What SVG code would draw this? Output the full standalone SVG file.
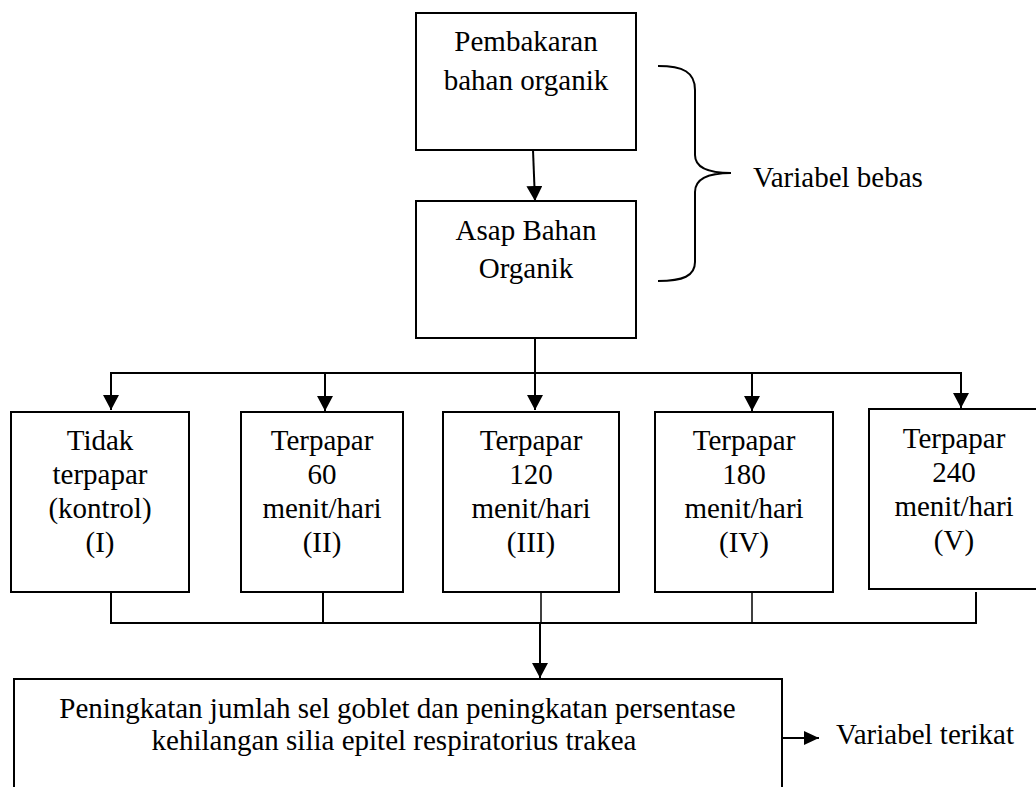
<svg xmlns="http://www.w3.org/2000/svg" width="1036" height="787" viewBox="0 0 1036 787">
<style>
.box{fill:#fff;stroke:#000;stroke-width:2}
.ln{fill:none;stroke:#000;stroke-width:2}
.thin{fill:none;stroke:#000;stroke-width:1.5}
</style>
<defs>
<marker id="ah" markerUnits="userSpaceOnUse" markerWidth="16" markerHeight="16" refX="15" refY="8" orient="auto">
<path d="M0,0 L15,8 L0,16 Z" fill="#000"/>
</marker>
<marker id="ahs" markerUnits="userSpaceOnUse" markerWidth="16" markerHeight="14" refX="15" refY="7" orient="auto">
<path d="M0,0 L15,7 L0,14 Z" fill="#000"/>
</marker>
</defs>
<rect width="1036" height="787" fill="#fff"/>
<g id="connectors">
<line class="ln" x1="533" y1="150" x2="535" y2="201" marker-end="url(#ah)"/>
<path class="ln" d="M658,66 C683,66 695,72 695,90 L695,155 C695,167 708,173 731,173 C708,173 695,179 695,192 L695,262 C695,276 683,281 658,281"/>
<line class="ln" x1="535" y1="338" x2="535" y2="373"/>
<line class="ln" x1="110" y1="373" x2="962" y2="373"/>
<line class="ln" x1="111" y1="373" x2="111" y2="410" marker-end="url(#ah)"/>
<line class="ln" x1="325" y1="373" x2="325" y2="411" marker-end="url(#ah)"/>
<line class="ln" x1="535" y1="373" x2="535" y2="410" marker-end="url(#ah)"/>
<line class="ln" x1="752" y1="373" x2="752" y2="411" marker-end="url(#ah)"/>
<line class="ln" x1="961" y1="373" x2="961" y2="408" marker-end="url(#ah)"/>
<line class="ln" x1="111" y1="592" x2="111" y2="623"/>
<line class="ln" x1="323" y1="589" x2="323" y2="623"/>
<line class="thin" x1="541" y1="592" x2="541" y2="623"/>
<line class="thin" x1="752" y1="592" x2="752" y2="623"/>
<line class="ln" x1="976" y1="592" x2="976" y2="624"/>
<line class="ln" x1="110" y1="623" x2="977" y2="623"/>
<line class="ln" x1="540" y1="623" x2="540" y2="678" marker-end="url(#ah)"/>
<line class="ln" x1="782" y1="738" x2="819" y2="738" marker-end="url(#ahs)"/>
</g>
<g font-family="'Liberation Serif', 'Times New Roman', Times, serif" font-size="29" fill="#000">
<g id="n1" text-anchor="middle">
<rect class="box" x="416" y="13" width="220" height="137"/>
<text x="526" y="51">Pembakaran</text>
<text x="526" y="90">bahan organik</text>
</g>
<g id="n2" text-anchor="middle">
<rect class="box" x="416" y="201" width="220" height="137"/>
<text x="526" y="240">Asap Bahan</text>
<text x="526" y="278">Organik</text>
</g>
<g id="lbl-bebas">
<text x="753" y="187">Variabel bebas</text>
</g>
<g id="g1" text-anchor="middle">
<rect class="box" x="11" y="412" width="178" height="180"/>
<text x="100" y="450">Tidak</text>
<text x="100" y="484">terpapar</text>
<text x="100" y="518">(kontrol)</text>
<text x="100" y="552">(I)</text>
</g>
<g id="g2" text-anchor="middle">
<rect class="box" x="241" y="412" width="162" height="180"/>
<text x="322" y="450">Terpapar</text>
<text x="322" y="484">60</text>
<text x="322" y="518">menit/hari</text>
<text x="322" y="552">(II)</text>
</g>
<g id="g3" text-anchor="middle">
<rect class="box" x="443" y="412" width="176" height="180"/>
<text x="531" y="450">Terpapar</text>
<text x="531" y="484">120</text>
<text x="531" y="518">menit/hari</text>
<text x="531" y="552">(III)</text>
</g>
<g id="g4" text-anchor="middle">
<rect class="box" x="655" y="412" width="178" height="180"/>
<text x="744" y="450">Terpapar</text>
<text x="744" y="484">180</text>
<text x="744" y="518">menit/hari</text>
<text x="744" y="552">(IV)</text>
</g>
<g id="g5" text-anchor="middle">
<rect class="box" x="869" y="409" width="180" height="180"/>
<text x="954" y="448">Terpapar</text>
<text x="954" y="482">240</text>
<text x="954" y="516">menit/hari</text>
<text x="954" y="550">(V)</text>
</g>
<g id="result" text-anchor="middle">
<rect class="box" x="14" y="679" width="768" height="130"/>
<text x="397.5" y="718">Peningkatan jumlah sel goblet dan peningkatan persentase</text>
<text x="394" y="750">kehilangan silia epitel respiratorius trakea</text>
</g>
<g id="lbl-terikat">
<text x="836" y="744">Variabel terikat</text>
</g>
</g>
</svg>
